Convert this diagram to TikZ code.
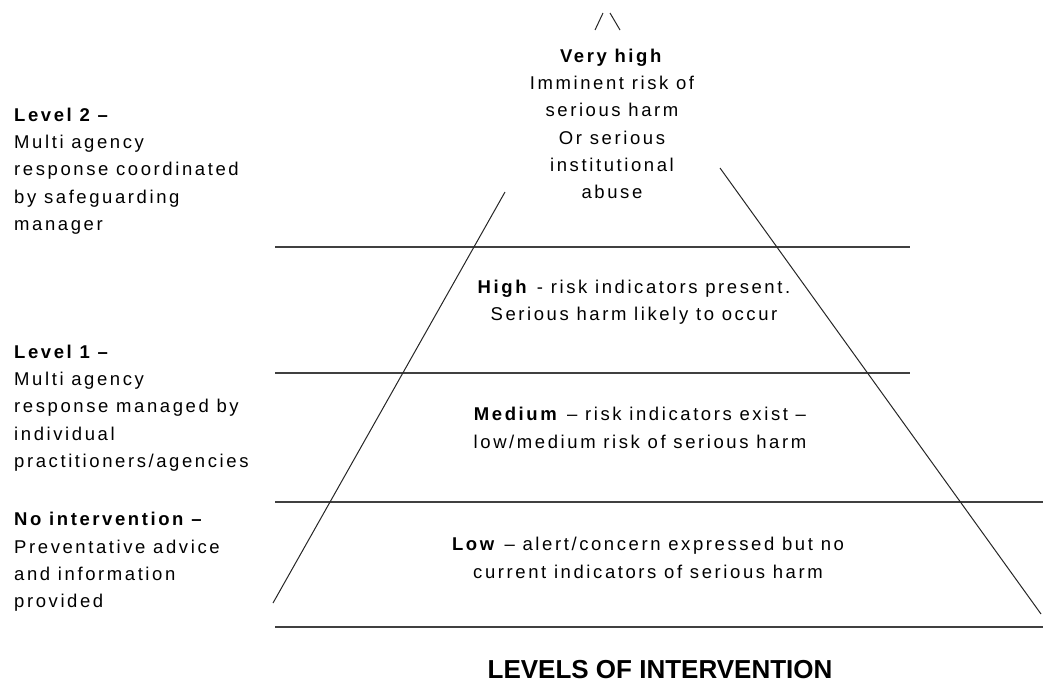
\documentclass[tikz,border=0pt]{standalone}
\usepackage{fontspec}
\setmainfont[LetterSpace=14]{Liberation Sans}
\newfontfamily\titlefont{Liberation Sans}
\tikzset{
  band/.style={draw=black!75, line width=1.8},
  slope/.style={draw=black!85, line width=1},
  lvl/.style={inner sep=0pt, align=left, anchor=west, font=\fontsize{18.5}{27.3}\selectfont},
  risk/.style={inner sep=0pt, align=center, font=\fontsize{18.5}{27.3}\selectfont}
}
\begin{document}
\begin{tikzpicture}[x=1pt, y=-1pt]
  \useasboundingbox (0,0) rectangle (1043,683);
  % bands
  \coordinate (h1l) at (275,247); \coordinate (h1r) at (910,247);
  \coordinate (h2l) at (275,373); \coordinate (h2r) at (910,373);
  \coordinate (h3l) at (275,502); \coordinate (h3r) at (1043,502);
  \coordinate (h4l) at (275,627); \coordinate (h4r) at (1043,627);
  \draw[band] (h1l) -- (h1r) (h2l) -- (h2r) (h3l) -- (h3r) (h4l) -- (h4r);
  % sides of the pyramid
  \coordinate (lb) at (273,603); \coordinate (lt) at (505,192);
  \coordinate (rt) at (720,168); \coordinate (rb) at (1041,614);
  \coordinate (a1) at (595,30); \coordinate (a2) at (603,13);
  \coordinate (a3) at (610,13); \coordinate (a4) at (620,30);
  \draw[slope] (lb) -- (lt) (rt) -- (rb) (a1) -- (a2) (a3) -- (a4);
  % risk levels
  \node[risk] (vhigh) at (612,124) {\textbf{Very high}\\Imminent risk of\\serious harm\\Or serious\\institutional\\abuse};
  \node[risk] (high) at (634,302) {\textbf{High} - risk indicators present.\\Serious harm likely to occur};
  \node[risk] (med) at (640,428) {\textbf{Medium} -- risk indicators exist --\\low/medium risk of serious harm};
  \node[risk] (low) at (648,558) {\textbf{Low} -- alert/concern expressed but no\\current indicators of serious harm};
  % levels of intervention
  \node[lvl] (lev2) at (14,171) {\textbf{Level 2 --}\\Multi agency\\response coordinated\\by safeguarding\\manager};
  \node[lvl] (lev1) at (14,408) {\textbf{Level 1 --}\\Multi agency\\response managed by\\individual\\practitioners/agencies};
  \node[lvl] (lev0) at (14,562) {\textbf{No intervention --}\\Preventative advice\\and information\\provided};
  \node[inner sep=0pt, font=\titlefont\bfseries\fontsize{26}{30}\selectfont] (title) at (660,670) {LEVELS OF INTERVENTION};
\end{tikzpicture}
\end{document}
